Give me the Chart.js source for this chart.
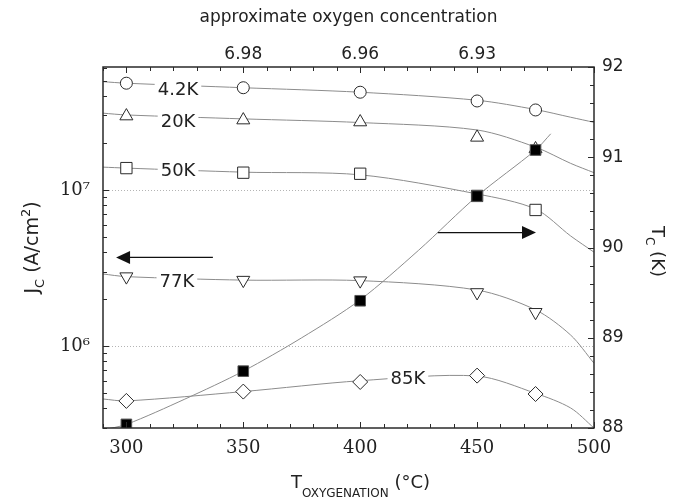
<!DOCTYPE html>
<html>
<head>
<meta charset="utf-8">
<script src="https://cdn.jsdelivr.net/npm/chart.js@4.4.0/dist/chart.umd.min.js"></script>
<style>
  html, body { margin: 0; padding: 0; background: #fff; }
  #contenedor { width: 679px; height: 500px; }
</style>
</head>
<body>
<div id="contenedor"><canvas id="jc-tc"></canvas></div>
<script>
// Temperaturas de oxigenación medidas (°C)
const temperaturas = [300, 350, 400, 450, 475]

// Jc (A/cm2) a cada temperatura de medición
const jc_42K = [4.82e7, 4.51e7, 4.22e7, 3.71e7, 3.25e7]
const jc_20K = [2.97e7, 2.80e7, 2.72e7, 2.17e7, 1.83e7]
const jc_50K = [1.38e7, 1.29e7, 1.27e7, 9.16e6, 7.45e6]
const jc_77K = [2.79e6, 2.65e6, 2.63e6, 2.21e6, 1.65e6]
const jc_85K = [4.47e5, 5.13e5, 5.91e5, 6.49e5, 4.95e5]

// Tc (K) de cada muestra
const tc = [88.04, 88.63, 89.41, 90.57, 91.08]

const ajusteX = [290, 300, 350, 400, 450, 475, 490, 500]
const ajuste_42K = [4.93e7, 4.82e7, 4.51e7, 4.22e7, 3.75e7, 3.27e7, 2.92e7, 2.71e7]
const ajuste_20K = [3.10e7, 3.02e7, 2.85e7, 2.70e7, 2.42e7, 1.88e7, 1.48e7, 1.29e7]
const ajuste_50K = [1.40e7, 1.38e7, 1.30e7, 1.25e7, 9.43e6, 7.55e6, 5.08e6, 4.0e6]
const ajuste_77K = [2.90e6, 2.79e6, 2.65e6, 2.63e6, 2.29e6, 1.71e6, 1.18e6, 7.79e5]
const ajuste_85K = [4.60e5, 4.47e5, 5.13e5, 6.02e5, 6.45e5, 5.00e5, 4.03e5, 3.0e5]

const ajusteTcX = [290, 300, 325, 350, 375, 400, 425, 450, 475, 481.5]
const ajusteTc = [87.98, 88.04, 88.32, 88.63, 89.0, 89.42, 89.97, 90.57, 91.08, 91.26]

// Ejes
const ticksX = [300, 350, 400, 450, 500]
const ticksOxigeno = [350, 400, 450]
const etiquetasOxigeno = ['6.98', '6.96', '6.93']
const ticksJc = [1e6, 1e7]
const etiquetasJc = ['10⁶', '10⁷']
const ticksTc = [88, 89, 90, 91, 92]

// Rótulos de cada curva
const rotulos = ['4.2K', '20K', '50K', '77K', '85K']
const rotulosX = [322.1, 322.1, 322.1, 321.6, 420.4]
const rotulosY = [4.43e7, 2.75e7, 1.34e7, 2.62e6, 6.27e5]

// Flechas: hacia Jc (izq.) y hacia Tc (der.)
const flechaJc = { desde: 337, hasta: 295.6, valor: 3.7e6 }
const flechaTc = { desde: 433.2, hasta: 475.2, valor: 90.165 }

const puntos = (xs, ys) => xs.map((x, i) => ({ x: x, y: ys[i] }))

const GRIS = '#8c8c8c'
const BORDE = '#2a2a2a'

const curva = (xs, ys, eje) => ({
  data: puntos(xs, ys),
  showLine: true,
  pointRadius: 0,
  borderColor: GRIS,
  borderWidth: 1,
  tension: 0.3,
  yAxisID: eje,
  order: 3
})

const marcadores = (ys, estilo, radio, rotacion) => ({
  data: puntos(temperaturas, ys),
  showLine: false,
  pointStyle: estilo,
  pointRadius: radio,
  pointRotation: rotacion || 0,
  pointBackgroundColor: '#fff',
  pointBorderColor: BORDE,
  pointBorderWidth: 1,
  yAxisID: 'y',
  order: 2
})

// Dibuja texto con subíndice/superíndice, partes = [[texto, tamaño, desplazamiento]]
const textoCompuesto = (ctx, partes, x, y) => {
  let ancho = 0
  for (let p of partes) {
    ctx.font = p[1] + 'px "DejaVu Sans"'
    ancho += ctx.measureText(p[0]).width
  }
  let cx = x - ancho / 2
  for (let p of partes) {
    ctx.font = p[1] + 'px "DejaVu Sans"'
    ctx.fillText(p[0], cx, y + p[2])
    cx += ctx.measureText(p[0]).width
  }
}

const flecha = (ctx, x1, x2, y) => {
  const dir = Math.sign(x2 - x1)
  ctx.beginPath()
  ctx.moveTo(x1, y)
  ctx.lineTo(x2 - dir * 12, y)
  ctx.stroke()
  ctx.beginPath()
  ctx.moveTo(x2, y)
  ctx.lineTo(x2 - dir * 14, y - 6.5)
  ctx.lineTo(x2 - dir * 14, y + 6.5)
  ctx.closePath()
  ctx.fill()
}

const decoracion = {
  id: 'decoracion',
  beforeDatasetsDraw(chart) {
    const { ctx, chartArea: a, scales } = chart
    // líneas punteadas en cada década
    ctx.save()
    ctx.strokeStyle = '#b4b4b4'
    ctx.lineWidth = 1
    ctx.setLineDash([1, 2])
    for (let v of ticksJc) {
      const y = Math.round(scales.y.getPixelForValue(v)) + 0.5
      ctx.beginPath()
      ctx.moveTo(a.left, y)
      ctx.lineTo(a.right, y)
      ctx.stroke()
    }
    ctx.restore()
  },
  afterDatasetsDraw(chart) {
    const { ctx, scales } = chart
    ctx.save()
    // rótulos sobre las curvas, con fondo blanco
    ctx.font = '18px "DejaVu Sans"'
    ctx.textAlign = 'center'
    ctx.textBaseline = 'middle'
    rotulos.forEach((r, i) => {
      const x = scales.x.getPixelForValue(rotulosX[i])
      const y = scales.y.getPixelForValue(rotulosY[i])
      const w = ctx.measureText(r).width + 6
      ctx.fillStyle = '#fff'
      ctx.fillRect(x - w / 2, y - 8, w, 16)
      ctx.fillStyle = '#222'
      ctx.fillText(r, x, y + 1)
    })
    // flechas
    ctx.strokeStyle = '#111'
    ctx.fillStyle = '#111'
    ctx.lineWidth = 1.3
    flecha(ctx, scales.x.getPixelForValue(flechaJc.desde), scales.x.getPixelForValue(flechaJc.hasta), scales.y.getPixelForValue(flechaJc.valor))
    flecha(ctx, scales.x.getPixelForValue(flechaTc.desde), scales.x.getPixelForValue(flechaTc.hasta), scales.y1.getPixelForValue(flechaTc.valor))
    ctx.restore()
  },
  afterDraw(chart) {
    const { ctx, chartArea: a, scales } = chart
    ctx.save()
    ctx.strokeStyle = BORDE
    ctx.lineWidth = 1
    // marcas hacia adentro: eje x (abajo y arriba)
    for (let t = 290; t <= 500; t += 10) {
      const x = Math.round(scales.x.getPixelForValue(t)) + 0.5
      const l = t % 50 === 0 ? 6 : 4
      ctx.beginPath()
      ctx.moveTo(x, a.bottom); ctx.lineTo(x, a.bottom - l)
      ctx.moveTo(x, a.top); ctx.lineTo(x, a.top + l)
      ctx.stroke()
    }
    // eje Jc logarítmico
    for (let e = 5; e <= 7; e++) {
      for (let m = 1; m <= 9; m++) {
        const v = m * Math.pow(10, e)
        if (v < scales.y.min || v > scales.y.max) continue
        const y = Math.round(scales.y.getPixelForValue(v)) + 0.5
        ctx.beginPath()
        ctx.moveTo(a.left, y); ctx.lineTo(a.left + (m === 1 ? 6 : 4), y)
        ctx.stroke()
      }
    }
    // eje Tc
    for (let k = 880; k <= 920; k += 2) {
      const y = Math.round(scales.y1.getPixelForValue(k / 10)) + 0.5
      ctx.beginPath()
      ctx.moveTo(a.right, y); ctx.lineTo(a.right - (k % 10 === 0 ? 6 : 4), y)
      ctx.stroke()
    }
    // marco
    ctx.lineWidth = 1.5
    ctx.strokeRect(a.left, a.top, a.right - a.left, a.bottom - a.top)

    // títulos de los ejes
    ctx.fillStyle = '#222'
    ctx.textBaseline = 'alphabetic'
    ctx.font = '17px "DejaVu Sans"'
    ctx.textAlign = 'center'
    ctx.fillText('approximate oxygen concentration', (a.left + a.right) / 2, 22)
    ctx.textAlign = 'left'
    textoCompuesto(ctx, [['T', 18, 0], ['OXYGENATION', 12, 9], [' (°C)', 18, 0]], (a.left + a.right) / 2 + 12, 488)

    ctx.save()
    ctx.translate(38, (a.top + a.bottom) / 2)
    ctx.rotate(-Math.PI / 2)
    textoCompuesto(ctx, [['J', 19, 0], ['C', 13, 6], [' (A/cm', 19, 0], ['2', 13, -8], [')', 19, 0]], 0, 0)
    ctx.restore()

    ctx.save()
    ctx.translate(652, (a.top + a.bottom) / 2 + 4)
    ctx.rotate(Math.PI / 2)
    textoCompuesto(ctx, [['T', 18, 0], ['C', 12, 6], [' (K)', 18, 0]], 0, 0)
    ctx.restore()
    ctx.restore()
  }
}

const fijarTicks = (valores) => (s) => { s.ticks = valores.map(v => ({ value: v })) }

window.addEventListener('load', () => {
  new Chart(document.getElementById('jc-tc'), {
    type: 'scatter',
    data: {
      datasets: [
        { data: puntos(temperaturas, tc), showLine: false, pointStyle: 'rect', pointRadius: 7.5,
          pointBackgroundColor: '#000', pointBorderColor: '#555', pointBorderWidth: 1, yAxisID: 'y1', order: 1 },
        marcadores(jc_42K, 'circle', 6),
        marcadores(jc_20K, 'triangle', 7.5),
        marcadores(jc_50K, 'rect', 8),
        marcadores(jc_77K, 'triangle', 7.5, 180),
        marcadores(jc_85K, 'rectRot', 7.5),
        curva(ajusteTcX, ajusteTc, 'y1'),
        curva(ajusteX, ajuste_42K, 'y'),
        curva(ajusteX, ajuste_20K, 'y'),
        curva(ajusteX, ajuste_50K, 'y'),
        curva(ajusteX, ajuste_77K, 'y'),
        curva(ajusteX, ajuste_85K, 'y')
      ]
    },
    options: {
      responsive: true,
      maintainAspectRatio: false,
      animation: false,
      layout: { padding: 0 },
      plugins: { legend: { display: false }, tooltip: { enabled: false } },
      scales: {
        x: {
          type: 'linear', position: 'bottom', min: 290, max: 500,
          afterBuildTicks: fijarTicks(ticksX),
          afterFit: (s) => { s.height = 72 },
          grid: { display: false, drawTicks: false },
          border: { display: false },
          ticks: { padding: 10, color: '#222', font: { family: 'DejaVu Serif', size: 18 } }
        },
        x2: {
          type: 'linear', position: 'top', min: 290, max: 500,
          afterBuildTicks: fijarTicks(ticksOxigeno),
          afterFit: (s) => { s.height = 67 },
          grid: { display: false, drawTicks: false },
          border: { display: false },
          ticks: {
            padding: 2, color: '#222', font: { family: 'DejaVu Sans', size: 17 },
            callback: (v) => etiquetasOxigeno[ticksOxigeno.indexOf(v)]
          }
        },
        y: {
          type: 'logarithmic', position: 'left', min: 3.0e5, max: 6.12e7,
          afterBuildTicks: fijarTicks(ticksJc),
          afterFit: (s) => { s.width = 103 },
          grid: { display: false, drawTicks: false },
          border: { display: false },
          ticks: {
            padding: 13, color: '#222', font: { family: 'DejaVu Serif', size: 18 },
            callback: (v) => etiquetasJc[ticksJc.indexOf(v)]
          }
        },
        y1: {
          type: 'linear', position: 'right', min: 88, max: 92,
          afterBuildTicks: fijarTicks(ticksTc),
          afterFit: (s) => { s.width = 85 },
          grid: { display: false, drawTicks: false },
          border: { display: false },
          ticks: { padding: 8, color: '#222', font: { family: 'DejaVu Sans', size: 17 } }
        }
      }
    },
    plugins: [decoracion]
  })
})
</script>
</body>
</html>
